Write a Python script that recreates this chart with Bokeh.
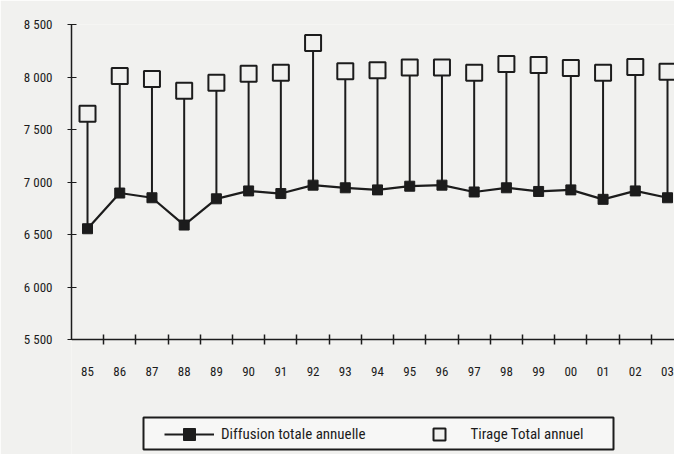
from bokeh.plotting import figure
from bokeh.models import Range1d, FixedTicker, Legend, LegendItem, ColumnDataSource, BoxAnnotation
from bokeh.embed import file_html
from bokeh.resources import INLINE

years = ["85", "86", "87", "88", "89", "90", "91", "92", "93", "94",
         "95", "96", "97", "98", "99", "00", "01", "02", "03"]
diffusion = [6555, 6895, 6850, 6590, 6840, 6915, 6890, 6970, 6945, 6925,
             6960, 6970, 6905, 6945, 6910, 6925, 6835, 6915, 6850]
tirage = [7650, 8010, 7980, 7870, 7945, 8030, 8040, 8325, 8055, 8065,
          8090, 8090, 8040, 8125, 8115, 8085, 8040, 8095, 8050]
y_ticks = [5500, 6000, 6500, 7000, 7500, 8000, 8500]
y_tick_labels = ["5 500", "6 000", "6 500", "7 000", "7 500", "8 000", "8 500"]
y_min, y_max = 5500, 8500

BG = "#f1f1ef"
INK = "#1c1c1c"
FONT = "Liberation Sans Narrow, Roboto Condensed, DejaVu Sans Condensed, sans-serif"

xs = list(range(len(years)))
src = ColumnDataSource(dict(x=xs, diff=diffusion, tir=tirage))

# frame runs to the bottom of the canvas; the x axis is pinned at y_min so
# the legend can sit inside the frame below it
p = figure(width=674, height=454, output_backend="svg", toolbar_location=None,
           x_range=Range1d(-0.497, 18.217), y_range=Range1d(4405, y_max),
           min_border_left=71, min_border_right=0, min_border_top=24,
           min_border_bottom=0)
p.background_fill_color = BG
p.border_fill_color = BG
p.outline_line_color = None
p.xgrid.visible = False
p.ygrid.visible = False

p.segment(x0="x", y0="diff", x1="x", y1="tir", source=src, line_color=INK, line_width=2)
r_line = p.line("x", "diff", source=src, line_color=INK, line_width=2.2)
r_fill = p.scatter("x", "diff", source=src, marker="square", size=10,
                   fill_color=INK, line_color=INK)
r_open = p.scatter("x", "tir", source=src, marker="square", size=16,
                   fill_color=BG, line_color=INK, line_width=2)

xa = p.xaxis[0]
xa.fixed_location = y_min
xa.ticker = FixedTicker(ticks=xs, minor_ticks=[i + 0.5 for i in range(len(years) - 1)])
xa.major_label_overrides = {i: y for i, y in enumerate(years)}
xa.major_tick_in = 0
xa.major_tick_out = 0
xa.minor_tick_in = 5
xa.minor_tick_out = 5
xa.minor_tick_line_color = INK
xa.minor_tick_line_width = 1.5
xa.axis_line_color = INK
xa.axis_line_width = 1.5
xa.major_label_standoff = 22
xa.major_label_text_font = FONT
xa.major_label_text_font_size = "13px"
xa.major_label_text_color = INK

ya = p.yaxis[0]
ya.ticker = FixedTicker(ticks=y_ticks)
ya.bounds = (y_min, y_max)
ya.major_label_overrides = {v: s for v, s in zip(y_ticks, y_tick_labels)}
ya.major_tick_in = 5
ya.major_tick_out = 4
ya.major_tick_line_color = INK
ya.axis_line_color = INK
ya.axis_line_width = 1.5
ya.major_label_standoff = 15
ya.major_label_text_font = FONT
ya.major_label_text_font_size = "13px"
ya.major_label_text_color = INK

# legend frame
box = BoxAnnotation(left=143, right=613, top=417, bottom=449,
                    left_units="canvas", right_units="canvas",
                    top_units="canvas", bottom_units="canvas",
                    fill_color="#f7f7f6", fill_alpha=1,
                    line_color=INK, line_width=2, line_alpha=1)
p.add_layout(box)

legend = Legend(items=[
    LegendItem(label="Diffusion totale annuelle", renderers=[r_line, r_fill]),
    LegendItem(label="Tirage Total annuel", renderers=[r_open]),
], location=(93, 5), orientation="horizontal")
legend.label_text_font = FONT
legend.label_text_font_size = "15px"
legend.label_text_color = INK
legend.glyph_width = 50
legend.glyph_height = 30
legend.label_height = 30
legend.label_standoff = 7
legend.spacing = 48
legend.padding = 1
legend.margin = 0
legend.border_line_color = None
legend.background_fill_alpha = 0
p.add_layout(legend, "center")

open("out.html", "w").write(file_html(p, INLINE))
